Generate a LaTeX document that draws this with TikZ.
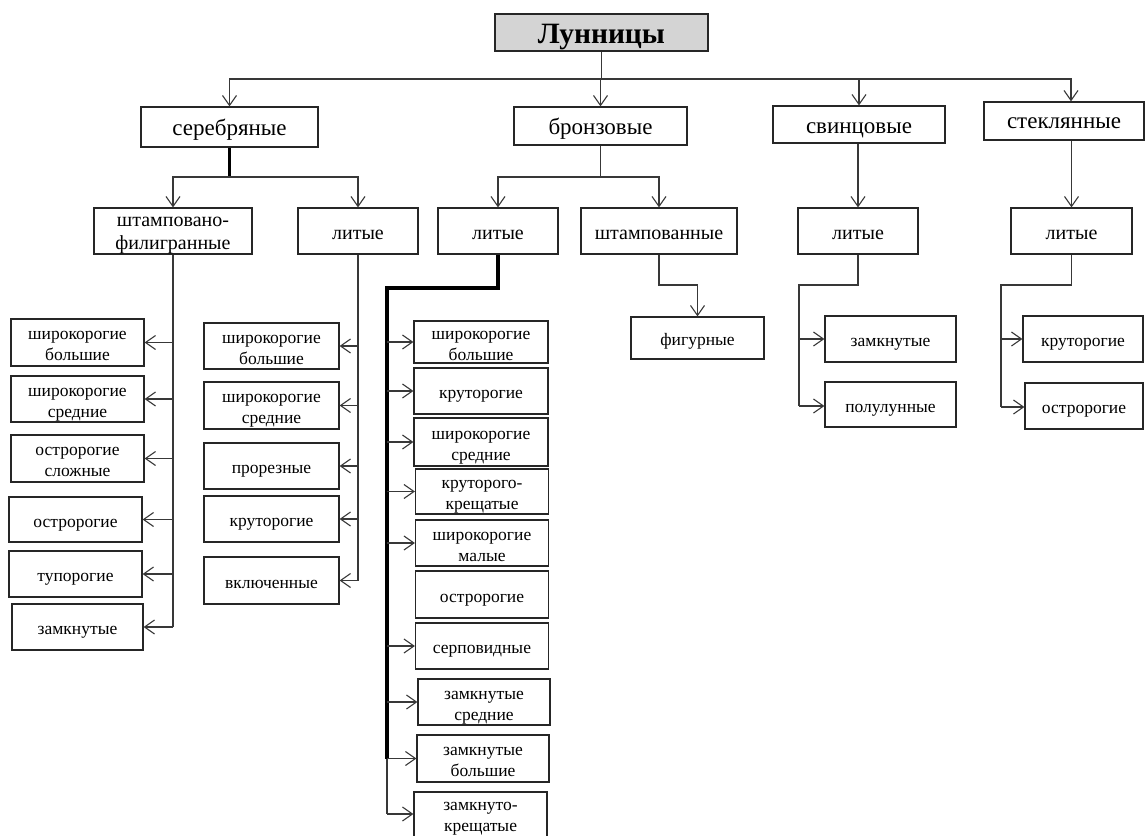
\documentclass[tikz,border=0pt]{standalone}
\usepackage{fontspec}
\setmainfont{Liberation Serif}
\usetikzlibrary{arrows.meta}
% labels are set as one-column tables so that every row gets the same strut,
% and lowered a little without changing the size of the box
\newcommand\boxlabel[2][3.5pt]{\raisebox{-#1}[\height][\depth]{\begin{tabular}{@{}c@{}}#2\end{tabular}}}
\begin{document}
\begin{tikzpicture}[x=1pt,y=-1pt,
  box/.style={draw=black!85, line width=1.2pt, fill=white, inner sep=0pt, text=black},
  wh/.style 2 args={minimum width=#1pt, minimum height=#2pt},
  lvA/.style={box, font=\fontsize{23}{26}\selectfont},
  lvB/.style={box, font=\fontsize{20}{23}\selectfont, minimum height=46pt},
  lvC/.style={box, font=\fontsize{17.5}{21}\selectfont},
  link/.style={draw=black!78, line width=1.1pt},
  arr/.style={link, -{Straight Barb[length=10pt,width=14pt]}},
  thick link/.style={draw=black, line width=#1},
]
\useasboundingbox (0,0) rectangle (1145,835);
\fill[white] (0,0) rectangle (1145,835);

% root
\node[box, fill=black!17, font=\fontsize{29.5}{32}\selectfont\bfseries, wh={213}{37}] (root) at (601.5,32.5) {\boxlabel[5pt]{Лунницы}};

% material groups
\node[lvA, wh={177}{40}] (silver) at (229.5,127) {\boxlabel{серебряные}};
\node[lvA, wh={173}{38}] (bronze) at (600.5,126) {\boxlabel{бронзовые}};
\node[lvA, wh={172}{37}] (lead)   at (859,124.5) {\boxlabel{свинцовые}};
\node[lvA, wh={160}{38}] (glass)  at (1064,121)  {\boxlabel[2pt]{стеклянные}};

% manufacturing technique
\node[lvB, minimum width=158pt] (fil)   at (173,231)    {\boxlabel[2.5pt]{штамповано-\\филигранные}};
\node[lvB, minimum width=120pt] (slit)  at (358,231)    {\boxlabel{литые}};
\node[lvB, minimum width=120pt] (blit)  at (498,231)    {\boxlabel{литые}};
\node[lvB, minimum width=156pt] (stamp) at (659,231)    {\boxlabel{штампованные}};
\node[lvB, minimum width=120pt] (llit)  at (858,231)    {\boxlabel{литые}};
\node[lvB, minimum width=121pt] (glit)  at (1071.5,231) {\boxlabel{литые}};

% silver, stamped-filigree types
\node[lvC, wh={133}{47}] (f1) at (77.5,342.5) {\boxlabel{широкорогие\\большие}};
\node[lvC, wh={133}{46}] (f2) at (77.5,399)   {\boxlabel{широкорогие\\средние}};
\node[lvC, wh={133}{47}] (f3) at (77.5,458.5) {\boxlabel{остророгие\\сложные}};
\node[lvC, wh={133}{45}] (f4) at (75.5,519.5) {\boxlabel{остророгие}};
\node[lvC, wh={133}{46}] (f5) at (75.5,574)   {\boxlabel{тупорогие}};
\node[lvC, wh={131}{46}] (f6) at (77.5,627)   {\boxlabel{замкнутые}};

% silver, cast types
\node[lvC, wh={135}{46}] (s1) at (271.5,346)   {\boxlabel{широкорогие\\большие}};
\node[lvC, wh={135}{47}] (s2) at (271.5,405.5) {\boxlabel{широкорогие\\средние}};
\node[lvC, wh={135}{46}] (s3) at (271.5,466)   {\boxlabel{прорезные}};
\node[lvC, wh={135}{46}] (s4) at (271.5,519)   {\boxlabel{круторогие}};
\node[lvC, wh={135}{47}] (s5) at (271.5,580.5) {\boxlabel{включенные}};

% bronze, cast types
\node[lvC, wh={134}{42}] (b1)  at (481,342)   {\boxlabel{широкорогие\\большие}};
\node[lvC, wh={134}{46}] (b2)  at (481,391)   {\boxlabel{круторогие}};
\node[lvC, wh={134}{48}] (b3)  at (481,442)   {\boxlabel{широкорогие\\средние}};
\node[lvC, wh={133}{45}] (b4)  at (482,491.5) {\boxlabel{круторого-\\крещатые}};
\node[lvC, wh={133}{46}] (b5)  at (482,543)   {\boxlabel{широкорогие\\малые}};
\node[lvC, wh={133}{47}] (b6)  at (482,594.5) {\boxlabel{остророгие}};
\node[lvC, wh={133}{46}] (b7)  at (482,646)   {\boxlabel{серповидные}};
\node[lvC, wh={132}{46}] (b8)  at (484,702)   {\boxlabel{замкнутые\\средние}};
\node[lvC, wh={132}{47}] (b9)  at (483,758.5) {\boxlabel{замкнутые\\большие}};
\node[lvC, wh={133}{48}] (b10) at (480.5,816) {\boxlabel[0.5pt]{замкнуто-\\крещатые}};

% bronze, stamped
\node[lvC, wh={133}{42}] (fig) at (697.5,338) {\boxlabel{фигурные}};

% lead, cast
\node[lvC, wh={131}{46}] (l1) at (890.5,339)   {\boxlabel{замкнутые}};
\node[lvC, wh={131}{45}] (l2) at (890.5,404.5) {\boxlabel{полулунные}};

% glass, cast
\node[lvC, wh={120}{46}] (g1) at (1083,339) {\boxlabel{круторогие}};
\node[lvC, wh={118}{46}] (g2) at (1084,406) {\boxlabel{остророгие}};

% root to material groups
\draw[link] (root.south) -- (root.south |- 0,79);
\draw[arr] (root.south |- 0,79) -| (silver.north);
\draw[arr] (bronze.north |- 0,79) -- (bronze.north);
\draw[link, line width=2pt] (root.south |- 0,79) -- (lead.north |- 0,79);
\draw[arr] (lead.north |- 0,79) -- (lead.north);
\draw[arr] (lead.north |- 0,79) -| ([xshift=7pt]glass.north);

% material groups to techniques
\draw[thick link=2.5pt] (silver.south) -- (silver.south |- 0,177);
\draw[arr] (silver.south |- 0,177) -| (fil.north);
\draw[arr] (silver.south |- 0,177) -| (slit.north);
\draw[link] (bronze.south) -- (bronze.south |- 0,177);
\draw[arr] (bronze.south |- 0,177) -| (blit.north);
\draw[arr] (bronze.south |- 0,177) -| (stamp.north);
\draw[arr] (lead.south -| llit.north) -- (llit.north);
\draw[arr] (glass.south -| glit.north) -- (glit.north);

% silver, stamped-filigree
\draw[link] (fil.south) -- (fil.south |- f6.east);
\foreach \n in {f1,f2,f3,f4,f5,f6}
  \draw[arr] (fil.south |- \n.east) -- (\n.east);

% silver, cast
\draw[link] (slit.south) -- (slit.south |- s5.east);
\foreach \n in {s1,s2,s3,s4,s5}
  \draw[arr] (slit.south |- \n.east) -- (\n.east);

% bronze, cast
\coordinate (bk) at (387,288);
\draw[thick link=3.5pt] (blit.south) |- (bk) -- (bk |- b9.west);
\draw[link] (bk |- b9.west) -- (bk |- 0,814);
\foreach \n in {b1,b2,b3,b4,b5,b7,b8,b9}
  \draw[arr] (bk |- \n.west) -- (\n.west);
\draw[arr] (bk |- 0,814) -- (b10.west |- 0,814);

% bronze, stamped
\draw[arr] (stamp.south) |- (fig.north |- 0,285) -- (fig.north);

% lead, cast
\coordinate (lk) at (799,285);
\draw[link] (llit.south) |- (lk) -- (lk |- 0,406);
\draw[link, line width=2pt] (lk |- 0,318) -- (lk |- 0,339);
\draw[arr] (lk |- l1.west) -- (l1.west);
\draw[arr] (lk |- 0,406) -- (l2.west |- 0,406);

% glass, cast
\coordinate (gk) at (1001,285);
\draw[link] (glit.south) |- (gk) -- (gk |- 0,407);
\draw[arr] (gk |- g1.west) -- (g1.west);
\draw[arr] (gk |- 0,407) -- (g2.west |- 0,407);
\end{tikzpicture}
\end{document}
